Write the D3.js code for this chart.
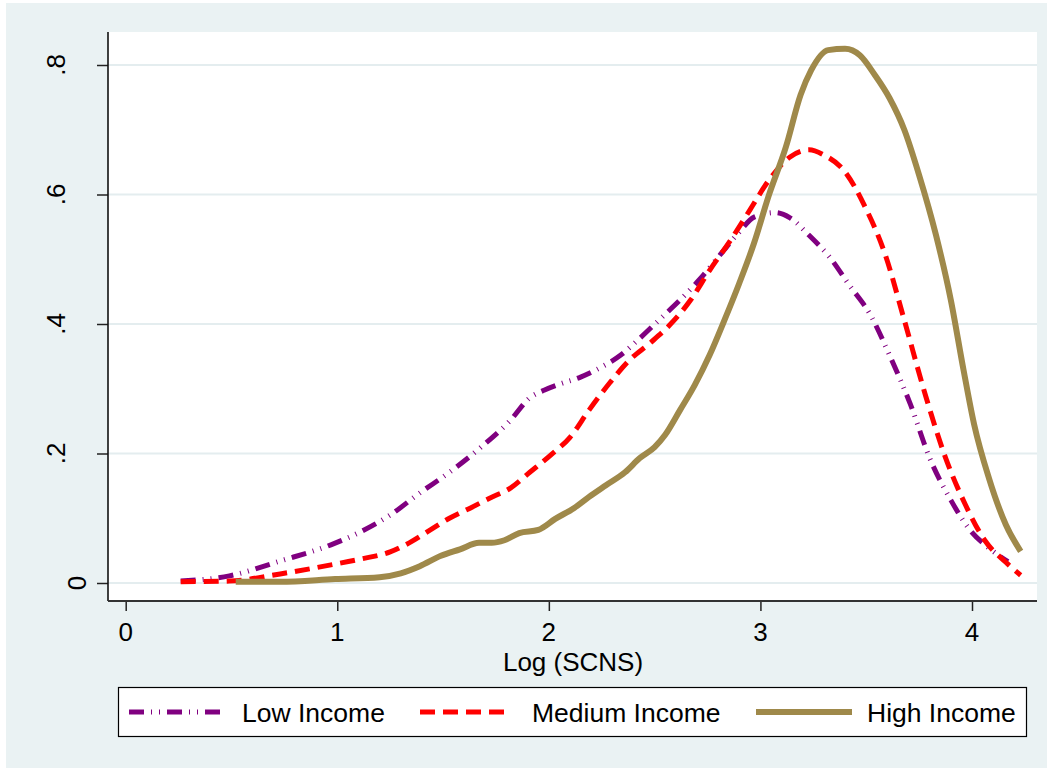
<!DOCTYPE html>
<html>
<head>
<meta charset="utf-8">
<script src="https://cdn.jsdelivr.net/npm/d3@7"></script>
<style>
  html, body { margin: 0; padding: 0; background: #ffffff; }
  svg { display: block; font-family: "Liberation Sans", Arial, sans-serif; }
</style>
</head>
<body>
<svg id="chart" width="1056" height="772"></svg>
<script>
// Kernel density of Log (SCNS) by income group
const seriesNames = ["Low Income", "Medium Income", "High Income"];

const lowX = [0.26, 0.49, 0.73, 0.97, 1.11, 1.25, 1.39, 1.53, 1.68, 1.82, 1.91, 1.98, 2.05, 2.15, 2.24, 2.34, 2.43, 2.53, 2.62, 2.71, 2.81, 2.90, 2.97, 3.07, 3.14, 3.23, 3.33, 3.42, 3.52, 3.61, 3.71, 3.80, 3.90, 3.99, 4.08, 4.17];
const lowY = [0.003, 0.011, 0.034, 0.059, 0.079, 0.105, 0.139, 0.171, 0.210, 0.252, 0.286, 0.298, 0.307, 0.318, 0.332, 0.352, 0.378, 0.409, 0.437, 0.468, 0.507, 0.542, 0.565, 0.572, 0.564, 0.537, 0.502, 0.460, 0.414, 0.352, 0.275, 0.193, 0.128, 0.082, 0.054, 0.033];

const medX = [0.26, 0.49, 0.73, 0.97, 1.11, 1.25, 1.34, 1.44, 1.53, 1.63, 1.72, 1.82, 1.91, 2.01, 2.10, 2.19, 2.29, 2.38, 2.48, 2.57, 2.67, 2.76, 2.86, 2.95, 3.04, 3.14, 3.23, 3.30, 3.40, 3.49, 3.59, 3.68, 3.78, 3.87, 3.97, 4.06, 4.16, 4.23];
const medY = [0.002, 0.003, 0.014, 0.028, 0.037, 0.048, 0.062, 0.082, 0.100, 0.116, 0.131, 0.147, 0.171, 0.198, 0.225, 0.267, 0.310, 0.344, 0.371, 0.398, 0.437, 0.483, 0.530, 0.576, 0.622, 0.658, 0.669, 0.661, 0.635, 0.584, 0.507, 0.406, 0.290, 0.198, 0.120, 0.066, 0.032, 0.012];

const highX = [0.52, 0.73, 0.99, 1.20, 1.30, 1.39, 1.49, 1.58, 1.67, 1.73, 1.79, 1.86, 1.95, 2.03, 2.12, 2.19, 2.27, 2.36, 2.43, 2.50, 2.55, 2.62, 2.69, 2.76, 2.83, 2.90, 2.97, 3.04, 3.12, 3.19, 3.24, 3.32, 3.40, 3.47, 3.54, 3.61, 3.68, 3.75, 3.83, 3.90, 3.96, 4.01, 4.08, 4.16, 4.23];
const highY = [0.002, 0.002, 0.006, 0.009, 0.015, 0.026, 0.042, 0.052, 0.062, 0.062, 0.066, 0.077, 0.082, 0.099, 0.116, 0.133, 0.151, 0.171, 0.193, 0.210, 0.229, 0.267, 0.306, 0.352, 0.406, 0.463, 0.525, 0.599, 0.673, 0.754, 0.792, 0.823, 0.825, 0.815, 0.785, 0.749, 0.700, 0.630, 0.537, 0.437, 0.329, 0.245, 0.162, 0.090, 0.049];

const xTicks = [0, 1, 2, 3, 4];
const xTickLabels = ["0", "1", "2", "3", "4"];
const yTicks = [0, 0.2, 0.4, 0.6, 0.8];
const yTickLabels = ["0", ".2", ".4", ".6", ".8"];

const series = [
  { name: seriesNames[0], x: lowX, y: lowY, color: "#800080", dash: "15 7 1 7 1 7", width: 5 },
  { name: seriesNames[1], x: medX, y: medY, color: "#ff0000", dash: "15 8", width: 5 },
  { name: seriesNames[2], x: highX, y: highY, color: "#9f894a", dash: null, width: 6 }
];

const svg = d3.select("#chart");

// graph region
svg.append("rect").attr("x", 6).attr("y", 3).attr("width", 1041).attr("height", 765)
  .attr("fill", "#eaf2f3");

// plot region
const plot = { left: 108, right: 1037, top: 32, bottom: 601 };
svg.append("rect").attr("x", plot.left).attr("y", plot.top)
  .attr("width", plot.right - plot.left).attr("height", plot.bottom - plot.top)
  .attr("fill", "#ffffff");

const x = d3.scaleLinear().domain([0, 4]).range([125.7, 972]);
const y = d3.scaleLinear().domain([0, 0.8]).range([583, 65]);

// horizontal grid
svg.append("g").selectAll("line").data(yTicks).join("line")
  .attr("x1", plot.left).attr("x2", plot.right)
  .attr("y1", d => y(d)).attr("y2", d => y(d))
  .attr("stroke", "#e4edef").attr("stroke-width", 2);

// curves
svg.append("clipPath").attr("id", "plotclip").append("rect")
  .attr("x", plot.left).attr("y", plot.top)
  .attr("width", plot.right - plot.left).attr("height", plot.bottom - plot.top);

const line = d3.line().x(d => x(d[0])).y(d => y(d[1])).curve(d3.curveMonotoneX);
const gLines = svg.append("g").attr("clip-path", "url(#plotclip)");
series.forEach(s => {
  const pts = s.x.map((v, i) => [v, s.y[i]]);
  gLines.append("path").datum(pts)
    .attr("d", line)
    .attr("fill", "none")
    .attr("stroke", s.color)
    .attr("stroke-width", s.width)
    .attr("stroke-dasharray", s.dash)
    .attr("stroke-linejoin", "round");
});

// y axis
const yAxis = d3.axisLeft(y).tickValues(yTicks).tickSize(11).tickFormat("");
const gy = svg.append("g").attr("transform", `translate(${plot.left},0)`).call(yAxis);
gy.select(".domain").remove();
gy.selectAll(".tick line").attr("stroke", "#222").attr("stroke-width", 1.5);
svg.append("line").attr("x1", plot.left).attr("x2", plot.left)
  .attr("y1", plot.top).attr("y2", plot.bottom)
  .attr("stroke", "#111").attr("stroke-width", 1.6);
svg.append("g").selectAll("text").data(yTicks).join("text")
  .attr("transform", d => `translate(${d === 0 ? 86 : 65},${y(d)}) rotate(-90)`)
  .attr("text-anchor", "middle")
  .attr("font-size", 26)
  .attr("fill", "#000")
  .text((d, i) => yTickLabels[i]);

// x axis
const xAxis = d3.axisBottom(x).tickValues(xTicks).tickSize(10).tickFormat("");
const gx = svg.append("g").attr("transform", `translate(0,${plot.bottom})`).call(xAxis);
gx.select(".domain").remove();
gx.selectAll(".tick line").attr("stroke", "#222").attr("stroke-width", 1.5);
svg.append("line").attr("x1", plot.left).attr("x2", plot.right)
  .attr("y1", plot.bottom).attr("y2", plot.bottom)
  .attr("stroke", "#333").attr("stroke-width", 2);
svg.append("g").selectAll("text").data(xTicks).join("text")
  .attr("x", d => x(d)).attr("y", 641)
  .attr("text-anchor", "middle")
  .attr("font-size", 26)
  .attr("fill", "#000")
  .text((d, i) => xTickLabels[i]);

svg.append("text").attr("x", 573).attr("y", 671)
  .attr("text-anchor", "middle").attr("font-size", 26).attr("fill", "#000")
  .text("Log (SCNS)");

// legend
svg.append("rect").attr("x", 118.5).attr("y", 687.5).attr("width", 908).attr("height", 49)
  .attr("fill", "#ffffff").attr("stroke", "#000").attr("stroke-width", 1.2);
const legendKeys = [
  { x1: 129, x2: 220, tx: 242 },
  { x1: 420, x2: 509, tx: 532 },
  { x1: 756, x2: 852, tx: 867 }
];
series.forEach((s, i) => {
  const k = legendKeys[i];
  svg.append("line").attr("x1", k.x1).attr("x2", k.x2).attr("y1", 712).attr("y2", 712)
    .attr("stroke", s.color).attr("stroke-width", s.width)
    .attr("stroke-dasharray", s.dash);
  svg.append("text").attr("x", k.tx).attr("y", 722)
    .attr("font-size", 26.5).attr("fill", "#000").text(s.name);
});
</script>
</body>
</html>
